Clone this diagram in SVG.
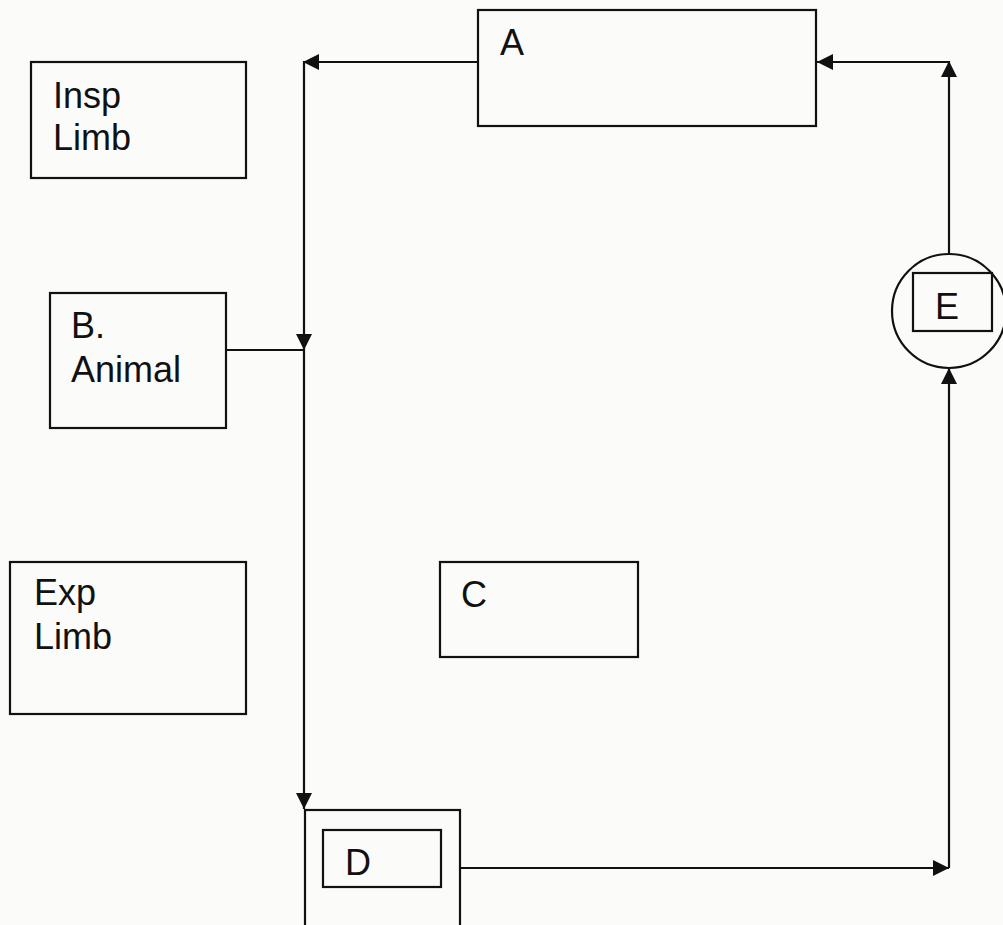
<svg xmlns="http://www.w3.org/2000/svg" width="1003" height="925" viewBox="0 0 1003 925">
  <style>
    .box { fill: none; stroke: #111; stroke-width: 2.2; }
    .lbl { font-family: "Liberation Sans", Arial, sans-serif; font-size: 36px; fill: #111; }
    .wire { fill: none; stroke: #111; stroke-width: 2.2; }
  </style>
  <defs>
    <marker id="arrow" viewBox="0 0 16 16" refX="16" refY="8" markerWidth="16" markerHeight="16" markerUnits="userSpaceOnUse" orient="auto">
      <path d="M0,0 L16,8 L0,16 Z" fill="#111"/>
    </marker>
  </defs>
  <rect width="1003" height="925" fill="#fbfbfa"/>

  <g id="node-a">
    <rect class="box" x="478" y="10" width="338" height="116"/>
    <text class="lbl" x="500" y="55">A</text>
  </g>

  <g id="node-insp">
    <rect class="box" x="31" y="62" width="215" height="116"/>
    <text class="lbl" x="53" y="108">Insp</text>
    <text class="lbl" x="53" y="150">Limb</text>
  </g>

  <g id="node-b">
    <rect class="box" x="50" y="293" width="176" height="135"/>
    <text class="lbl" x="71" y="338">B.</text>
    <text class="lbl" x="71" y="382">Animal</text>
  </g>

  <g id="node-exp">
    <rect class="box" x="10" y="562" width="236" height="152"/>
    <text class="lbl" x="34" y="605">Exp</text>
    <text class="lbl" x="34" y="649">Limb</text>
  </g>

  <g id="node-c">
    <rect class="box" x="440" y="562" width="198" height="95"/>
    <text class="lbl" x="461" y="607">C</text>
  </g>

  <g id="node-d">
    <rect class="box" x="305" y="810" width="155" height="125"/>
    <rect class="box" x="323" y="830" width="118" height="57"/>
    <text class="lbl" x="345" y="875">D</text>
  </g>

  <g id="node-e">
    <circle class="box" cx="949" cy="311" r="57"/>
    <rect class="box" x="913" y="273" width="79" height="58"/>
    <text class="lbl" x="935" y="319">E</text>
  </g>

  <g id="connectors">
    <line class="wire" x1="478" y1="62" x2="303" y2="62" marker-end="url(#arrow)"/>
    <line class="wire" x1="304" y1="62" x2="304" y2="350" marker-end="url(#arrow)"/>
    <line class="wire" x1="226" y1="350" x2="304" y2="350"/>
    <line class="wire" x1="304" y1="350" x2="304" y2="809" marker-end="url(#arrow)"/>
    <line class="wire" x1="460" y1="868" x2="949" y2="868" marker-end="url(#arrow)"/>
    <line class="wire" x1="949" y1="868" x2="949" y2="368" marker-end="url(#arrow)"/>
    <line class="wire" x1="949" y1="254" x2="949" y2="61" marker-end="url(#arrow)"/>
    <line class="wire" x1="949" y1="62" x2="817" y2="62" marker-end="url(#arrow)"/>
  </g>
</svg>
